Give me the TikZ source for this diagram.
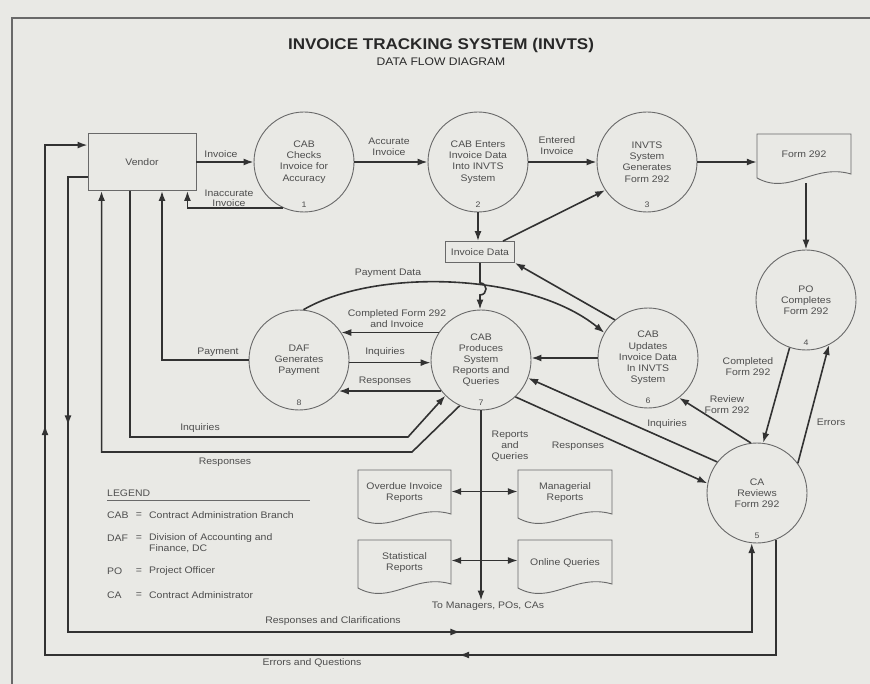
\documentclass[tikz,border=0pt]{standalone}
\usepackage{fontspec}
\setmainfont{Liberation Sans}[FakeStretch=1.1]
\usetikzlibrary{arrows.meta,calc,decorations.markings}
\definecolor{bgc}{RGB}{233,233,229}
\definecolor{lnc}{RGB}{50,50,50}
\definecolor{shc}{RGB}{105,105,105}
\definecolor{txc}{RGB}{78,78,78}
\definecolor{ttc}{RGB}{40,40,40}
\newcommand\dfdfont{\fontsize{9.5}{11.2}\selectfont}
\newcommand\docnode[6]{%
  \draw[shp] (#2,#3) -- (#4,#3) -- (#4,{#5-9})
    .. controls ({#2+0.6*(#4-#2)},{#5-20}) and ({#2+0.35*(#4-#2)},{#5+13}) .. (#2,{#5-5}) -- cycle;
  \node[inner sep=0pt, minimum width={(#4-#2)*1pt}, minimum height={(#5-#3)*1pt}] (#1) at ({(#2+#4)/2},{(#3+#5)/2}) {};
  \node[lbl] at ($(#1)+(0,-4)$) {#6};
}
\begin{document}
\begin{tikzpicture}[x=1pt,y=-1pt, >={Latex[length=10pt,width=7pt]},
  conn/.style={draw=lnc,line width=1.6pt},
  flow/.style={conn,->},
  dflow/.style={conn,<->},
  shp/.style={draw=shc,line width=0.9pt},
  proc/.style={shp,circle,minimum size=100pt,inner sep=0pt,align=center,font=\dfdfont,text=txc},
  lbl/.style={font=\dfdfont,text=txc,align=center,inner sep=1pt},
  num/.style={font=\fontsize{8}{9}\selectfont,text=txc,inner sep=0pt},
  rbox/.style={shp,rectangle,inner sep=0pt,font=\dfdfont,text=txc}]
\useasboundingbox (0,0) rectangle (870,684);
\fill[bgc] (0,0) rectangle (870,684);
\draw[shc,line width=1.2pt] (12,684) -- (12,18) -- (870,18);

% title
\node[font=\fontsize{15.5}{18}\selectfont\bfseries,text=ttc] (title) at (441,45) {INVOICE TRACKING SYSTEM (INVTS)};
\node[font=\fontsize{11}{13}\selectfont,text=ttc] (subtitle) at (441,62) {DATA FLOW DIAGRAM};

% external entity and stores
\node[rbox,minimum width=108pt,minimum height=57pt] (vendor) at (142,162) {Vendor};
\node[rbox,minimum width=69pt,minimum height=21pt] (idata) at (480,252) {Invoice Data};
\docnode{form}{757}{134}{851}{183}{Form 292}
\docnode{ovr}{358}{470}{451}{523}{Overdue Invoice\\Reports}
\docnode{mgr}{518}{470}{612}{523}{Managerial\\Reports}
\docnode{stat}{358}{540}{451}{593}{Statistical\\Reports}
\docnode{onl}{518}{540}{612}{593}{Online Queries}

% processes
\node[proc] (p1) at (304,162) {CAB\\Checks\\Invoice for\\Accuracy};
\node[proc] (p2) at (478,162) {CAB Enters\\Invoice Data\\Into INVTS\\System};
\node[proc] (p3) at (647,162) {INVTS\\System\\Generates\\Form 292};
\node[proc] (p4) at (806,300) {PO\\Completes\\Form 292};
\node[proc] (p5) at (757,493) {CA\\Reviews\\Form 292};
\node[proc] (p6) at (648,358) {CAB\\Updates\\Invoice Data\\In INVTS\\System};
\node[proc] (p7) at (481,360) {CAB\\Produces\\System\\Reports and\\Queries};
\node[proc] (p8) at (299,360) {DAF\\Generates\\Payment};
\foreach \p/\n in {p1/1,p2/2,p3/3,p4/4,p5/5,p6/6,p7/7,p8/8}
  \node[num] (n\n) at ($(\p)+(0,43)$) {\n};

\node[lbl] (tomgr) at (488,606) {To Managers, POs, CAs};

% connectors along the top
\draw[flow] (vendor.east) -- (p1.west);
\draw[flow] (p1.-115) -| ([xshift=-9pt]vendor.south east);
\draw[flow] (p1.east) -- (p2.west);
\draw[flow] (p2.east) -- (p3.west);
\draw[flow] (p3.east) -- (p3.east -| form.west);
\draw[flow] (form.south -| p4) -- (p4.north);
\draw[flow] (p2.south) -- (p2.south |- idata.north);
\draw[flow] ([xshift=-12pt]idata.north east) -- (p3.214);
\draw[flow] (p6.131) -- (idata.south east);

% payment data curve and hop
\draw[flow] (p8.85) .. controls (375,268) and (530,272) .. (p6.150);
\coordinate (hopA) at ($(idata.south)+(0,20)$);
\coordinate (hopB) at ($(idata.south)+(0,32)$);
\draw[flow] (idata.south) -- (hopA) .. controls ($(hopA)+(8,0)$) and ($(hopB)+(8,0)$) .. (hopB) -- (hopB |- p7.north);

% middle flows
\draw[flow] (p7.147) -- (p8.33);
\draw[flow] (p8.-3) -- (p7.-177);
\draw[flow] (p7.-142) -- (p8.-38);
\draw[flow] (p8.west) -| ([xshift=20pt]vendor.south);
\draw[flow] (p6.west) -- (p6.west -| p7.east);
\draw[flow] (p7.south) -- (p7.south |- tomgr.north);
\draw[dflow] ([yshift=5pt]ovr.east) -- ([yshift=5pt]mgr.west);
\draw[dflow] ([yshift=6pt]stat.east) -- ([yshift=6pt]onl.west);

% vendor inquiries / responses
\coordinate (inqc) at (408,437);
\coordinate (resc) at (412,452);
\draw[flow] ([xshift=-12pt]vendor.south) |- (inqc) -- (p7.225);
\draw[flow] (p7.245) -- (resc) -| ([xshift=14pt]vendor.south west);

% CA flows
\draw[flow] (p4.-109) -- (p5.83);
\draw[flow] (p5.36) -- (p4.-63);
\draw[flow] (p5.97) -- (p6.-52);
\draw[flow] (p5.142) -- (p7.-21);
\draw[flow] (p7.-47) -- (p5.169);

% outer loops
\coordinate (rc0) at ($(vendor.south west)+(0,-14)$);
\coordinate (rc1) at (68,632);
\draw[flow,postaction={decorate},decoration={markings,
   mark=at position 268pt with {\arrow{>}},
   mark=at position 867pt with {\arrow{>}}}]
  (rc0) -| (rc1) -| (p5.-96);
\coordinate (eq1) at (45,655);
\coordinate (eqv) at ($(vendor.north west)+(0,12)$);
\draw[flow,postaction={decorate},decoration={markings,
   mark=at position 432pt with {\arrow{>}},
   mark=at position 1076pt with {\arrow{>}}}]
  (p5.-68) |- (eq1) |- (eqv);

% labels
\node[lbl] (lInv) at (221,154) {Invoice};
\node[lbl,font=\fontsize{9.5}{10}\selectfont] (lInacc) at (229,198) {Inaccurate\\Invoice};
\node[lbl] (lAcc) at (389,147) {Accurate\\Invoice};
\node[lbl] (lEnt) at (557,146) {Entered\\Invoice};
\node[lbl] (lPD) at (388,273) {Payment Data};
\node[lbl] (lComp) at (397,319) {Completed Form 292\\and Invoice};
\node[lbl] (lInq8) at (385,352) {Inquiries};
\node[lbl] (lRes8) at (385,381) {Responses};
\node[lbl] (lPay) at (218,352) {Payment};
\node[lbl] (lInqV) at (200,428) {Inquiries};
\node[lbl] (lResV) at (225,462) {Responses};
\node[lbl] (lRQ) at (510,446) {Reports\\and\\Queries};
\node[lbl] (lRes5) at (578,446) {Responses};
\node[lbl] (lInq5) at (667,424) {Inquiries};
\node[lbl] (lRev) at (727,405) {Review\\Form 292};
\node[lbl] (lCompF) at (748,367) {Completed\\Form 292};
\node[lbl] (lErr) at (831,422) {Errors};
\node[lbl] (lRC) at (333,621) {Responses and Clarifications};
\node[lbl] (lEQ) at (312,663) {Errors and Questions};

% legend
\node[lbl,anchor=west] (lg) at (106,493) {LEGEND};
\draw[shp] (107,500) -- (310,500);
\foreach \y/\a/\d in {515/CAB/Contract Administration Branch,
                      538/DAF/Division of Accounting and,
                      571/PO/Project Officer,
                      595/CA/Contract Administrator}{
  \node[lbl,anchor=west] at (106,\y) {\a};
  \node[lbl] at (139,\y) {=};
  \node[lbl,anchor=west] at (148,\y) {\d};
}
\node[lbl,anchor=west] (lgdc) at (148,549) {Finance, DC};
\end{tikzpicture}
\end{document}
